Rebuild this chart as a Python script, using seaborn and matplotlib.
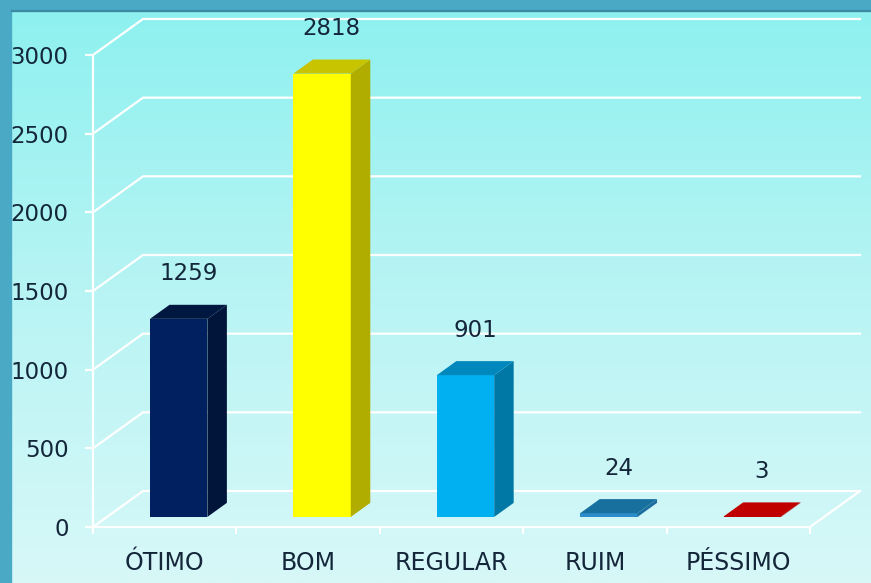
import numpy as np
import pandas as pd
import seaborn as sns
import matplotlib.pyplot as plt
from matplotlib.patches import Polygon, Rectangle
from matplotlib.colors import LinearSegmentedColormap

categories = ['ÓTIMO', 'BOM', 'REGULAR', 'RUIM', 'PÉSSIMO']
counts = [1259, 2818, 901, 24, 3]
y_ticks = [0, 500, 1000, 1500, 2000, 2500, 3000]

front_colors = ['#002060', '#FFFF00', '#00B0F0', '#2A8CC8', '#C00000']
side_colors = ['#001539', '#B0AC00', '#0078A6', '#1B6E9E', '#A00000']
top_colors = ['#00183F', '#C8C400', '#0088BD', '#17709E', '#C00000']

df = pd.DataFrame({'categoria': categories, 'total': counts})

W, H, DPI = 871, 583, 100
fig = plt.figure(figsize=(W / DPI, H / DPI), dpi=DPI)

# background gradient + frame
bg = fig.add_axes([0, 0, 1, 1], zorder=0)
bg_cmap = LinearSegmentedColormap.from_list('bg', ['#8CF1EF', '#B8F4F4', '#D8F8F8'])
bg.imshow(np.linspace(0, 1, 256)[:, None], aspect='auto', cmap=bg_cmap,
          extent=[0, 1, 0, 1], origin='upper')
bg.axis('off')
fig.add_artist(Rectangle((0, 0), 11 / W, 1, transform=fig.transFigure,
                         color='#4AAAC6', zorder=5))
fig.add_artist(Rectangle((0, 1 - 10 / H), 1, 10 / H, transform=fig.transFigure,
                         color='#4AAAC6', zorder=5))
fig.add_artist(Rectangle((11 / W, 1 - 11 / H), 1, 1 / H, transform=fig.transFigure,
                         color='#3C8BA3', zorder=5))

# perspective (depth offset in data units)
cat_px = (810 - 93) / len(categories)
val_per_px = 3000 / 472
depth_x = 50 / cat_px
depth_y = 36 * val_per_px
x_end = len(categories) - 0.5

ax = fig.add_axes([93 / W, 56 / H, 767 / W, 508 / H], zorder=1)
ax.patch.set_alpha(0)

sns.barplot(data=df, x='categoria', y='total', hue='categoria',
            palette=front_colors, saturation=1, width=0.4, legend=False,
            ax=ax, zorder=3)

ax.set_xlim(-0.5, x_end + depth_x)
ax.set_ylim(0, 3000 + depth_y)

# grid walls
for v in y_ticks:
    ax.plot([-0.5, -0.5 + depth_x, x_end + depth_x], [v, v + depth_y, v + depth_y],
            color='white', lw=1.6, zorder=1, clip_on=False, solid_joinstyle='miter')
ax.plot([-0.5, x_end, x_end + depth_x], [0, 0, depth_y], color='white', lw=1.6,
        zorder=1, clip_on=False)
ax.plot([-0.5, -0.5], [0, 3000], color='white', lw=1.6, zorder=1, clip_on=False)

# 3d faces
f_off = 0.28
b_dep = 0.39
sx, sy = f_off * depth_x, f_off * depth_y
bdx, bdy = b_dep * depth_x, b_dep * depth_y
bars = sorted(ax.patches, key=lambda p: p.get_x())
for i, p in enumerate(bars):
    x0, w, h = p.get_x() + sx, p.get_width(), p.get_height()
    p.set_x(x0)
    p.set_y(sy)
    side = Polygon([(x0 + w, sy), (x0 + w + bdx, sy + bdy),
                    (x0 + w + bdx, sy + h + bdy), (x0 + w, sy + h)],
                   closed=True, facecolor=side_colors[i], edgecolor='none', zorder=3)
    top = Polygon([(x0, sy + h), (x0 + w, sy + h), (x0 + w + bdx, sy + h + bdy),
                   (x0 + bdx, sy + h + bdy)],
                  closed=True, facecolor=top_colors[i], edgecolor='none', zorder=3)
    ax.add_patch(side)
    ax.add_patch(top)
    ax.text(x0 + (w + bdx) / 2, sy + h + 285, f'{counts[i]}', ha='center',
            va='center', fontsize=16.5, color='#13263A', zorder=4)

for s in ax.spines.values():
    s.set_visible(False)

ax.set_yticks(y_ticks)
ax.set_xticks(range(len(categories)))
ax.set_xticks(np.arange(-0.5, len(categories)), minor=True)
ax.tick_params(axis='y', colors='white', length=6, width=1.6, pad=11.5,
               labelcolor='#13263A', labelsize=16.5)
ax.tick_params(axis='x', which='major', length=0, pad=17, labelcolor='#13263A',
               labelsize=17)
ax.tick_params(axis='x', which='minor', colors='white', length=5, width=1.6)
ax.set_xlabel('')
ax.set_ylabel('')

fig.savefig('out.png', dpi=DPI)
